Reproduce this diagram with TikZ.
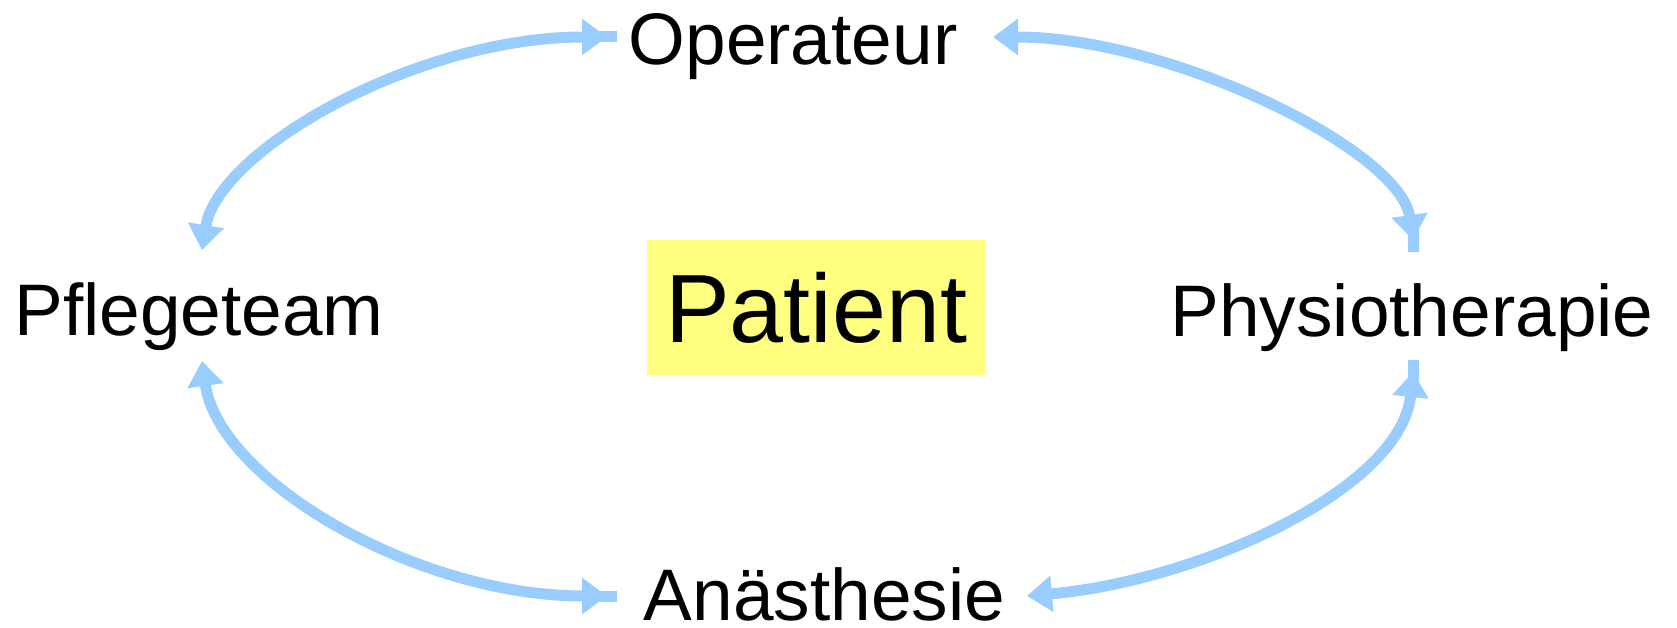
\documentclass[tikz,border=0pt]{standalone}
\usepackage{fontspec}
\setmainfont{Liberation Sans}
\usetikzlibrary{arrows.meta}
\definecolor{arrowblue}{HTML}{99CCFF}
\definecolor{patyellow}{HTML}{FFFF80}
\begin{document}
\begin{tikzpicture}[x=1pt,y=-1pt,
  lbl/.style={inner sep=0pt, anchor=base, font=\fontsize{73}{86}\selectfont},
  conn/.style={draw=arrowblue, line width=11pt, {Triangle[length=25pt,width=35pt]}-{Triangle[length=25pt,width=35pt]}},
  stub/.style={draw=arrowblue, line width=11pt}]
\useasboundingbox (0,0) rectangle (1677,628);
% labels
\node[lbl] (op) at (793,65) {Operateur};
\node[lbl] (pf) at (199,335) {Pflegeteam};
\node[lbl] (ph) at (1412,336) {Physiotherapie};
\node[lbl] (an) at (824.5,620) {Anästhesie};
\node[fill=patyellow, minimum width=338pt, minimum height=135pt, inner sep=0pt,
      font=\fontsize{97}{110}\selectfont] (pat) at (816,307.5) {Patient};
% connector ends
\coordinate (opW) at (607,37);
\coordinate (opE) at (993,37);
\coordinate (pfN) at (202,250);
\coordinate (pfS) at (202,361);
\coordinate (phN) at (1413,240);
\coordinate (phS) at (1413,372);
\coordinate (anW) at (607,596);
\coordinate (anE) at (1027,596);
% connectors
\draw[conn] (opW) .. controls +(-190,0) and +(16,-100) .. (pfN);
\draw[stub] ([xshift=-12pt]opW) -- ([xshift=10pt]opW);
\draw[conn] (opE) .. controls +(177,0) and +(-13,-90) .. (phN);
\draw[stub] ([yshift=-12pt]phN) -- ([yshift=14pt]phN);
\draw[conn] (pfS) .. controls +(17,120) and +(-190,0) .. (anW);
\draw[stub] ([xshift=-12pt]anW) -- ([xshift=10pt]anW);
\draw[conn] (anE) .. controls +(170,-15) and +(-12,118) .. (phS);
\draw[stub] ([yshift=12pt]phS) -- ([yshift=-9pt]phS);
\end{tikzpicture}
\end{document}
